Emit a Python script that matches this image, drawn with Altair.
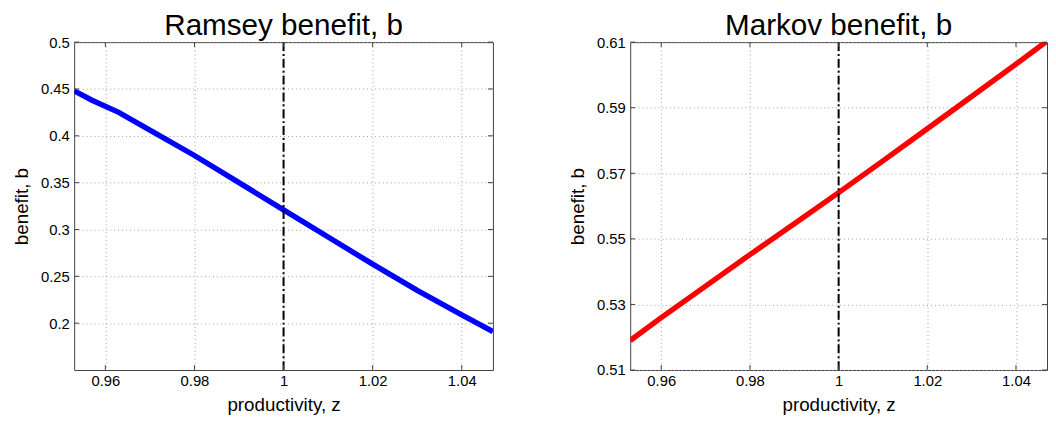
import altair as alt
import pandas as pd

# Data
z_ramsey = [0.953, 0.957, 0.963, 0.970, 0.980, 0.990, 1.000, 1.010, 1.020, 1.030, 1.040, 1.047]
b_ramsey = [0.448, 0.438, 0.425, 0.406, 0.379, 0.350, 0.321, 0.292, 0.263, 0.235, 0.209, 0.191]

z_markov = [0.953, 0.960, 0.970, 0.980, 0.990, 1.000, 1.010, 1.020, 1.030, 1.040, 1.047]
b_markov = [0.519, 0.5260, 0.5356, 0.5452, 0.5546, 0.5641, 0.5738, 0.5836, 0.5934, 0.6033, 0.6103]

x_domain = [0.953, 1.047]
x_ticks = [0.96, 0.98, 1.0, 1.02, 1.04]
ramsey_domain = [0.15, 0.5]
ramsey_ticks = [0.2, 0.25, 0.3, 0.35, 0.4, 0.45, 0.5]
markov_domain = [0.51, 0.61]
markov_ticks = [0.51, 0.53, 0.55, 0.57, 0.59, 0.61]
z_ref = [1.0]

FONT = "Liberation Sans"
BOX = "#404040"


def panel(z, b, color, title, ydomain, yticks, width, height=332):
    x_enc = alt.X("z:Q",
                  scale=alt.Scale(domain=x_domain, nice=False, zero=False),
                  axis=alt.Axis(values=x_ticks, format="~g", title="productivity, z"))
    y_enc = alt.Y("b:Q",
                  scale=alt.Scale(domain=ydomain, nice=False, zero=False),
                  axis=alt.Axis(values=yticks, format="~g", title="benefit, b"))
    df = pd.DataFrame({"z": z, "b": b})
    line = alt.Chart(df).mark_line(color=color, strokeWidth=5.5, clip=True).encode(
        x=x_enc, y=y_enc)
    vline = alt.Chart(pd.DataFrame({"z": z_ref})).mark_rule(
        color="black", strokeWidth=2, strokeDash=[9, 3, 2, 3]
    ).encode(x=x_enc)

    # inward (MATLAB-style) tick marks on all four sides
    xt = pd.DataFrame({"z": x_ticks})
    yt = pd.DataFrame({"b": yticks})
    tk = dict(color=BOX, strokeWidth=1)
    xb = alt.Chart(xt).mark_rule(**tk).encode(x=x_enc, y=alt.value(height), y2=alt.value(height - 5))
    xtp = alt.Chart(xt).mark_rule(**tk).encode(x=x_enc, y=alt.value(0), y2=alt.value(5))
    yl = alt.Chart(yt).mark_rule(**tk).encode(y=y_enc, x=alt.value(0), x2=alt.value(5))
    yr = alt.Chart(yt).mark_rule(**tk).encode(y=y_enc, x=alt.value(width), x2=alt.value(width - 5))

    return alt.layer(line, vline, xb, xtp, yl, yr).properties(
        width=width, height=height,
        title=alt.TitleParams(title, fontSize=30, font=FONT, fontWeight="normal",
                              anchor="middle", frame="group", offset=-12, dy=-6,
                              color="black"),
    )


left = panel(z_ramsey, b_ramsey, "#0000FF", "Ramsey benefit, b", ramsey_domain, ramsey_ticks, 424)
right = panel(z_markov, b_markov, "#FF0000", "Markov benefit, b", markov_domain, markov_ticks, 422)

chart = alt.hconcat(left, right, spacing=75).properties(
    padding={"left": 4, "top": 0, "right": 0, "bottom": 0}
).configure_axis(
    labelFont=FONT, labelFontSize=15, labelColor="black", labelPadding=5,
    titleFont=FONT, titleFontSize=19, titleFontWeight="normal", titleColor="black",
    titlePadding=9,
    ticks=False, domain=False,
    grid=True, gridColor="#a0a0a0", gridDash=[1, 3], gridWidth=1, gridOpacity=1,
).configure_axisX(labelPadding=4, titlePadding=7).configure_view(
    stroke=BOX, strokeWidth=1
)

chart.save("out.html", embed_options={"renderer": "svg", "actions": False})
